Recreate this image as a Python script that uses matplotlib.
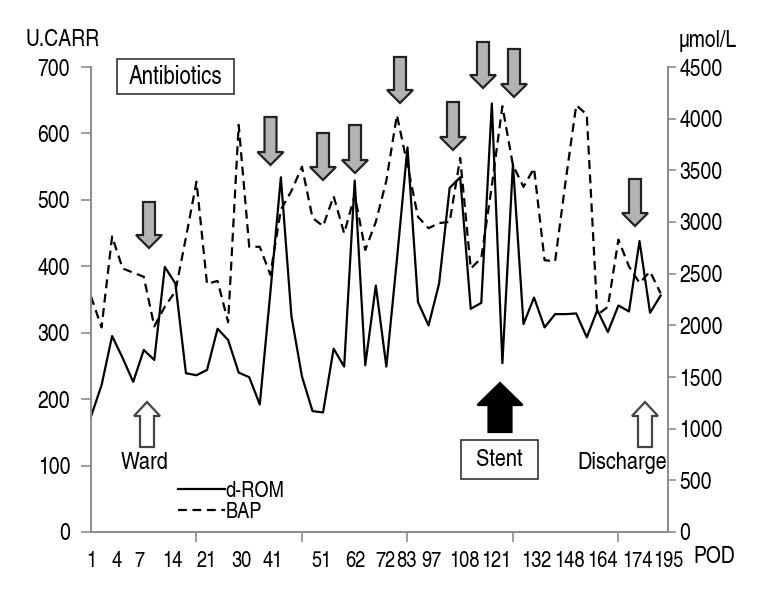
import numpy as np
import matplotlib
matplotlib.use('Agg')
import matplotlib.pyplot as plt
from matplotlib.patches import Polygon, Rectangle
from matplotlib.lines import Line2D

# DATA
#===============================================================================
drom = [174, 221, 295, 262, 226, 274, 259, 399, 374, 239,
        236, 244, 306, 289, 240, 233, 192, 360, 534, 325,
        234, 182, 180, 276, 249, 529, 251, 371, 249, 410,
        579, 346, 311, 374, 518, 534, 336, 345, 645, 254,
        554, 313, 353, 308, 328, 328, 329, 293, 334, 301,
        341, 332, 438, 330, 356]
bap = [2280, 1980, 2860, 2550, 2510, 2470, 1990, 2180, 2330, 2850,
       3390, 2400, 2430, 2030, 3940, 2760, 2760, 2490, 3120, 3300,
       3535, 3040, 2960, 3250, 2890, 3260, 2730, 3000, 3400, 4035,
       3550, 3050, 2940, 2990, 3000, 3620, 2550, 2650, 3350, 4120,
       3550, 3340, 3520, 2630, 2620, 3400, 4130, 4040, 2100, 2180,
       2830, 2570, 2410, 2520, 2310]
pod_labels = ['1', '4', '7', '14', '21', '30', '41', '51', '62', '72',
              '83', '97', '108', '121', '132', '148', '164', '174', '195']
pod_pos = [0.0, 2.4, 4.6, 7.7, 11.0, 14.3, 17.2, 21.9, 25.1, 27.9,
           29.9, 32.3, 35.4, 38.4, 42.2, 45.4, 48.5, 51.8, 54.7]
#===============================================================================

W, H = 768, 600
FS = 17
plt.rcParams['font.family'] = ['TeX Gyre Heros Cn', 'Liberation Sans', 'DejaVu Sans']
plt.rcParams['font.size'] = FS
GRAY = '#8c8c8c'

def fx(px):
  return px / W

def fy(py):
  return 1 - py / H

def arrow(fig, cx, y_tail, y_tip, shaft, head, head_len, fc, ec='#222222'):
  d = 1 if y_tip > y_tail else -1
  neck = y_tip - d * head_len
  pts = [(cx - shaft/2, y_tail), (cx - shaft/2, neck), (cx - head/2, neck),
         (cx, y_tip), (cx + head/2, neck), (cx + shaft/2, neck),
         (cx + shaft/2, y_tail)]
  pts = [(fx(a), fy(b)) for a, b in pts]
  fig.add_artist(Polygon(pts, closed=True, transform=fig.transFigure,
                         facecolor=fc, edgecolor=ec, linewidth=1.6))

def box_text(fig, x0, y0, x1, y1, txt, size=FS):
  fig.add_artist(Rectangle((fx(x0), fy(y1)), fx(x1) - fx(x0), fy(y0) - fy(y1),
                           transform=fig.transFigure, facecolor='white',
                           edgecolor='#333333', linewidth=1.2))
  fig.text(fx((x0 + x1) / 2), fy((y0 + y1) / 2), txt, ha='center', va='center',
           fontsize=size)

fig = plt.figure(figsize=(W / 100, H / 100), dpi=100)
ax = fig.add_axes([fx(91), fy(532), fx(668) - fx(91), fy(67) - fy(532)])
ax2 = ax.twinx()

x = np.arange(len(drom))
ax.plot(x, drom, color='black', lw=1.6, label='d-ROM')
ax2.plot(x, bap, color='black', lw=1.6, ls=(0, (4, 2.5)), label='BAP')

ax.set_xlim(0, (668 - 91) / 10.6)
ax.set_ylim(0, 700)
ax2.set_ylim(0, 4500)
ax.set_yticks(range(0, 701, 100))
ax2.set_yticks(range(0, 4501, 500))

ax.set_xticks(pod_pos)
ax.set_xticklabels(pod_labels)
ax.set_xticks(range(0, 55, 10), minor=True)
ax.tick_params(axis='x', which='major', length=0, pad=14, labelsize=16)
ax.tick_params(axis='x', which='minor', length=7, width=1.2, color=GRAY)
ax.tick_params(axis='y', length=7, width=1.2, color=GRAY, pad=8)
ax2.tick_params(axis='y', length=6, width=1.2, color=GRAY, pad=2)

for a in (ax, ax2):
  a.spines['top'].set_visible(False)
  for s in ('left', 'right', 'bottom'):
    a.spines[s].set_color(GRAY)
    a.spines[s].set_linewidth(1.3)

fig.text(fx(63), fy(40), 'U.CARR', ha='center', va='center')
fig.text(fx(708), fy(41), 'µmol/L', ha='center', va='center')
fig.text(fx(714), fy(557), 'POD', ha='center', va='center')

# legend
handles = [Line2D([], [], color='black', lw=1.6),
           Line2D([], [], color='black', lw=1.6, ls=(0, (4, 2.5)))]
ax.legend(handles, ['d-ROM', 'BAP'], loc='upper left', frameon=False,
          bbox_to_anchor=(fx(178), fy(481)), bbox_transform=fig.transFigure,
          handlelength=2.1, handletextpad=0.05, labelspacing=0.0,
          borderpad=0, borderaxespad=0, fontsize=16)

# event boxes and arrows
box_text(fig, 117, 59, 234, 94, 'Antibiotics', size=18)
box_text(fig, 461, 440, 538, 479, 'Stent', size=17.5)
fig.text(fx(145), fy(463), 'Ward', ha='center', va='center', fontsize=17.5)
fig.text(fx(622), fy(463), 'Discharge', ha='center', va='center', fontsize=17.5)

for cx, top, tip in [(149, 202, 248), (270.5, 117, 165), (323, 133, 180),
                     (355, 125, 173), (400, 57, 103), (453, 102, 150),
                     (483, 42, 88), (514, 49, 97), (635, 179, 226)]:
  arrow(fig, cx, top, tip, 12, 26, 13, '#b3b3b3')
arrow(fig, 147, 447, 402, 14, 26, 14, 'white', ec='#444444')
arrow(fig, 645, 447, 402, 14, 26, 14, 'white', ec='#444444')
arrow(fig, 500, 432, 383, 23, 45, 22, 'black', ec='black')

fig.savefig('out.png', dpi=100)
